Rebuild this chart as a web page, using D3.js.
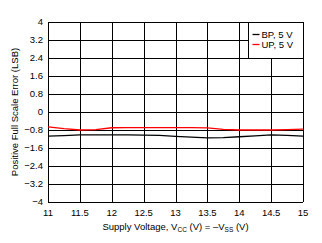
<!DOCTYPE html>
<html>
<head>
<meta charset="utf-8">
<script src="https://cdn.jsdelivr.net/npm/d3@7"></script>
<style>
  body { margin: 0; background: #fff; }
  text { font-family: "Liberation Sans", Arial, sans-serif; fill: #000; }
</style>
</head>
<body>
<div id="chart"></div>
<script>
const voltage = [11, 11.25, 11.5, 11.75, 12, 12.25, 12.5, 12.75, 13, 13.25, 13.5, 13.75, 14, 14.25, 14.5, 14.75, 15];
const bpError = [-1.07, -1.05, -1.02, -1.02, -1.02, -1.02, -1.03, -1.04, -1.08, -1.12, -1.15, -1.14, -1.10, -1.06, -1.02, -1.04, -1.07];
const upError = [-0.66, -0.74, -0.80, -0.78, -0.70, -0.69, -0.69, -0.69, -0.69, -0.69, -0.71, -0.77, -0.80, -0.80, -0.80, -0.78, -0.76];
const xTicks = [11, 11.5, 12, 12.5, 13, 13.5, 14, 14.5, 15];
const yTicks = [-4, -3.2, -2.4, -1.6, -0.8, 0, 0.8, 1.6, 2.4, 3.2, 4];
const seriesNames = ["BP, 5 V", "UP, 5 V"];
const seriesColors = ["#000000", "#ff0000"];

const width = 322, height = 243;
const margin = { top: 22, right: 19, bottom: 41, left: 48 };
const w = width - margin.left - margin.right;
const h = height - margin.top - margin.bottom;

const svg = d3.select("#chart").append("svg")
  .attr("width", width)
  .attr("height", height);

const g = svg.append("g")
  .attr("transform", "translate(" + margin.left + "," + margin.top + ")");

const x = d3.scaleLinear().domain([11, 15]).range([0, w]);
const y = d3.scaleLinear().domain([-4, 4]).range([h, 0]);

// grid
g.selectAll(".vgrid").data(xTicks).enter().append("line")
  .attr("x1", d => Math.round(x(d)) + 0.5).attr("x2", d => Math.round(x(d)) + 0.5)
  .attr("y1", 0).attr("y2", h)
  .attr("stroke", "#000").attr("stroke-width", 1);
g.selectAll(".hgrid").data(yTicks).enter().append("line")
  .attr("y1", d => Math.round(y(d)) + 0.5).attr("y2", d => Math.round(y(d)) + 0.5)
  .attr("x1", 0).attr("x2", w)
  .attr("stroke", "#000").attr("stroke-width", 1);

// tick labels
g.selectAll(".ylab").data(yTicks).enter().append("text")
  .attr("x", -5).attr("y", d => y(d)).attr("dy", "0.35em")
  .attr("text-anchor", "end").style("font-size", "9.5px")
  .text(d => d3.format("")(d));
g.selectAll(".xlab").data(xTicks).enter().append("text")
  .attr("x", d => x(d)).attr("y", h + 14)
  .attr("text-anchor", "middle").style("font-size", "9.5px")
  .text(d => d);

// axis titles
const xt = svg.append("text")
  .attr("x", margin.left + w / 2).attr("y", 230)
  .attr("text-anchor", "middle").style("font-size", "9.5px");
xt.append("tspan").text("Supply Voltage, V");
xt.append("tspan").attr("dy", 2).style("font-size", "6.5px").text("CC");
xt.append("tspan").attr("dy", -2).text(" (V) = \u2013V");
xt.append("tspan").attr("dy", 2).style("font-size", "6.5px").text("SS");
xt.append("tspan").attr("dy", -2).text(" (V)");

svg.append("text")
  .attr("transform", "translate(18," + (margin.top + h / 2) + ") rotate(-90)")
  .attr("text-anchor", "middle").style("font-size", "9.5px")
  .text("Positive Full Scale Error (LSB)");

// lines
const line = d3.line().x(d => x(d[0])).y(d => y(d[1]));
[bpError, upError].forEach((vals, i) => {
  g.append("path")
    .datum(voltage.map((v, j) => [v, vals[j]]))
    .attr("d", line)
    .attr("fill", "none")
    .attr("stroke", seriesColors[i])
    .attr("stroke-width", 1.3);
});

// legend
const legendW = 55;
const lg = g.append("g").attr("transform", "translate(" + (w - legendW + 0.5) + ",0.5)");
lg.append("rect").attr("width", legendW).attr("height", Math.round(y(2.4)))
  .attr("fill", "#fff").attr("stroke", "#000");
seriesNames.forEach((name, i) => {
  const yy = 12 + i * 10;
  lg.append("line").attr("x1", 4).attr("x2", 11).attr("y1", yy).attr("y2", yy)
    .attr("stroke", seriesColors[i]).attr("stroke-width", 1.3);
  lg.append("text").attr("x", 13).attr("y", yy).attr("dy", "0.35em")
    .style("font-size", "9.5px").text(name);
});
</script>
</body>
</html>
